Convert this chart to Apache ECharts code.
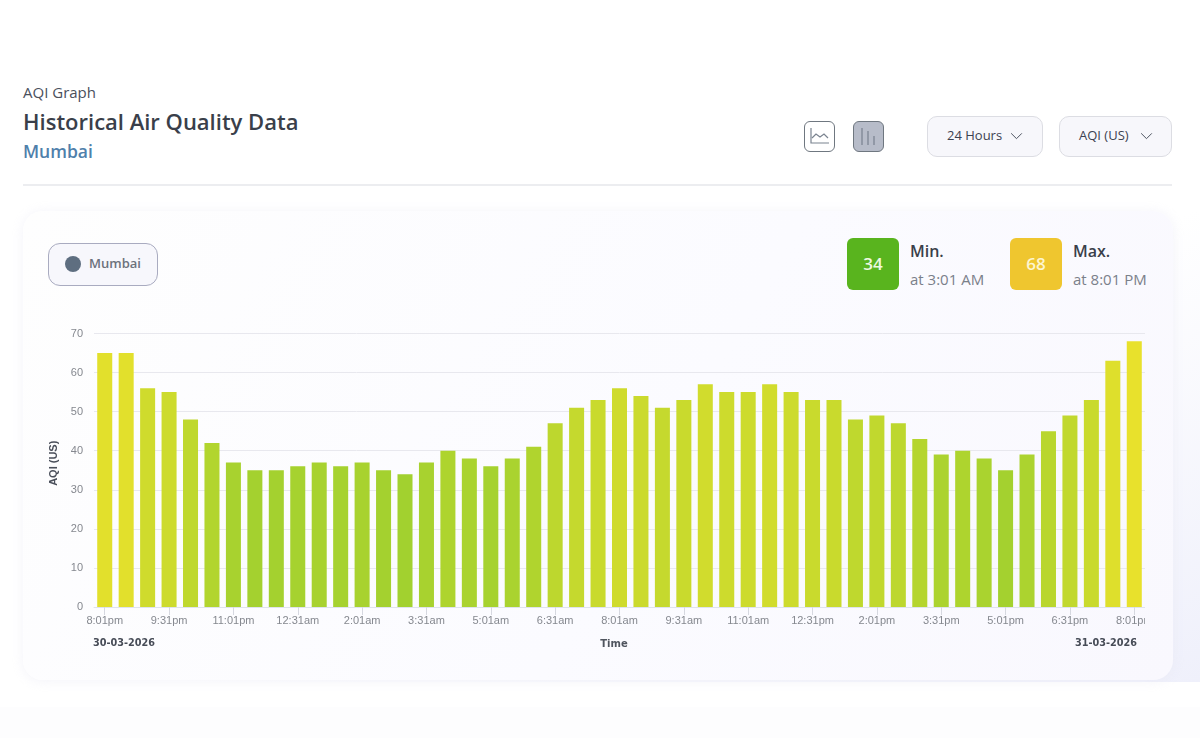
<!DOCTYPE html>
<html><head><meta charset="utf-8">
<script src="https://cdn.jsdelivr.net/npm/echarts@6/dist/echarts.min.js"></script>
<style>
html,body{margin:0;padding:0;width:1200px;height:738px;overflow:hidden;background:#fff;font-family:"Open Sans","Noto Sans",sans-serif;}
.t{position:absolute;white-space:nowrap;line-height:1;}
.box{position:absolute;box-sizing:border-box;}
.btn{background:#f7f7fb;border:1.5px solid #dcdde3;border-radius:10px;height:41px;top:116px;color:#3c4250;font-size:13px;}
#bg{position:absolute;left:0;top:186px;width:1200px;height:496px;background:linear-gradient(155deg,#ffffff 0%,#ffffff 55%,#eff0fb 100%);}
#card{position:absolute;left:23px;top:211px;width:1150px;height:469px;border-radius:20px;background:linear-gradient(120deg,#fefefe 0%,#fbfbff 55%,#f9f8fe 100%);box-shadow:0 1px 12px rgba(228,228,242,.45);}
#chart{position:absolute;left:0;top:320px;width:1145px;height:340px;}
</style></head><body>
<div id="bg"></div>
<div class="box" style="left:0;top:707px;width:1200px;height:31px;background:#fdfdfe"></div>
<div class="t" style="left:23px;top:85px;font-size:15px;color:#4a505c">AQI Graph</div>
<div class="t" style="left:23px;top:110px;font-size:22px;font-weight:600;color:#3a3f4a">Historical Air Quality Data</div>
<div class="t" style="left:23px;top:143px;font-size:17.5px;font-weight:600;color:#4f80ab">Mumbai</div>
<div class="box" style="left:23px;top:184px;width:1149px;height:2px;background:#ecedf0"></div>

<div class="box" style="left:804px;top:121px;width:31px;height:31px;border:1.5px solid #6f7780;border-radius:6px;background:#fff">
<svg width="28" height="28" viewBox="0 0 28 28" fill="none" stroke="#7b8490" stroke-width="1.2"><path d="M6 6V21H24"/><path d="M7 16L11 12L15 15L19 12L23 16"/></svg></div>
<div class="box" style="left:853px;top:121px;width:31px;height:31px;border:1.5px solid #6f7780;border-radius:6px;background:#b7bcc9">
<svg width="28" height="28" viewBox="0 0 28 28" fill="none" stroke="#858c9a" stroke-width="1.5"><path d="M8 6V23M14 9V23M20 14V23"/></svg></div>

<div class="box btn" style="left:927px;width:116px"><span class="t" style="left:19px;top:12px">24 Hours</span>
<svg class="t" style="left:82px;top:15px" width="13" height="8" viewBox="0 0 14 9" fill="none" stroke="#4b515e" stroke-width="1.1"><path d="M1 1.5L7 7.5L13 1.5"/></svg></div>
<div class="box btn" style="left:1059px;width:113px"><span class="t" style="left:19px;top:12px">AQI (US)</span>
<svg class="t" style="left:80px;top:15px" width="13" height="8" viewBox="0 0 14 9" fill="none" stroke="#4b515e" stroke-width="1.1"><path d="M1 1.5L7 7.5L13 1.5"/></svg></div>

<div id="card"></div>
<div class="box" style="left:48px;top:243px;width:110px;height:43px;border:1.5px solid #a9abc0;border-radius:12px;background:#f7f7fc"></div>
<div class="box" style="left:65px;top:256px;width:16px;height:16px;border-radius:50%;background:#5e6e80"></div>
<div class="t" style="left:89px;top:257px;font-size:13px;font-weight:600;color:#6d727c">Mumbai</div>

<div class="box" style="left:847px;top:238px;width:52px;height:52px;border-radius:6px;background:#59b41e"></div>
<div class="t" style="left:847px;top:255px;width:52px;text-align:center;font-size:17px;font-weight:600;color:#eef8e0">34</div>
<div class="t" style="left:910px;top:243px;font-size:16px;font-weight:600;color:#3a3f4a">Min.</div>
<div class="t" style="left:910px;top:272px;font-size:15px;color:#7a808a">at 3:01 AM</div>
<div class="box" style="left:1010px;top:238px;width:52px;height:52px;border-radius:6px;background:#efc62f"></div>
<div class="t" style="left:1010px;top:255px;width:52px;text-align:center;font-size:17px;font-weight:600;color:#fdf5d0">68</div>
<div class="t" style="left:1073px;top:243px;font-size:16px;font-weight:600;color:#3a3f4a">Max.</div>
<div class="t" style="left:1073px;top:272px;font-size:15px;color:#7a808a">at 8:01 PM</div>

<div id="chart"></div>
<script>
const categories=["8:01pm","8:31pm","9:01pm","9:31pm","10:01pm","10:31pm","11:01pm","11:31pm","12:01am","12:31am","1:01am","1:31am","2:01am","2:31am","3:01am","3:31am","4:01am","4:31am","5:01am","5:31am","6:01am","6:31am","7:01am","7:31am","8:01am","8:31am","9:01am","9:31am","10:01am","10:31am","11:01am","11:31am","12:01pm","12:31pm","1:01pm","1:31pm","2:01pm","2:31pm","3:01pm","3:31pm","4:01pm","4:31pm","5:01pm","5:31pm","6:01pm","6:31pm","7:01pm","7:31pm","8:01pm"];
const aqiValues=[65,65,56,55,48,42,37,35,35,36,37,36,37,35,34,37,40,38,36,38,41,47,51,53,56,54,51,53,57,55,55,57,55,53,53,48,49,47,43,39,40,38,35,39,45,49,53,63,68];
const yTicks={min:0,max:70,interval:10};
const dateStart="30-03-2026", dateEnd="31-03-2026";
const labelFont="'Liberation Sans',Arial,sans-serif";
const boldFont="'DejaVu Sans',Verdana,sans-serif";
const chart=echarts.init(document.getElementById('chart'),null,{renderer:'canvas'});
chart.setOption({
  animation:false,
  backgroundColor:'transparent',
  grid:{left:94,right:0,top:13.5,height:273.5,outerBoundsMode:'none'},
  visualMap:{show:false,type:'continuous',seriesIndex:0,min:34,max:68,inRange:{color:['#a2d12f','#e8e12c']}},
  xAxis:{type:'category',data:categories,
    axisLine:{lineStyle:{color:'#dfe3ec',width:1}},
    axisTick:{show:true,alignWithLabel:true,interval:2,length:8,lineStyle:{color:'#d6d8e0'}},
    axisLabel:{interval:2,margin:8,fontSize:11,color:'#85888f',fontFamily:labelFont,hideOverlap:false},
    name:'Time',nameLocation:'middle',nameGap:32,
    nameTextStyle:{fontSize:10,fontWeight:'bold',color:'#50555f',fontFamily:boldFont,padding:[0,11,0,0]}},
  yAxis:{type:'value',min:yTicks.min,max:yTicks.max,interval:yTicks.interval,
    axisLine:{show:false},axisTick:{show:false},
    splitLine:{lineStyle:{color:'#e8e8ee',width:1}},
    axisLabel:{margin:11,fontSize:11,color:'#85888f',fontFamily:labelFont},
    name:'AQI (US)',nameLocation:'middle',nameGap:33,nameRotate:90,
    nameTextStyle:{fontSize:11,fontWeight:'bold',color:'#4a4f5a',fontFamily:labelFont,padding:[0,0,0,14]}},
  graphic:[
    {type:'text',left:93,top:318,style:{text:dateStart,font:"bold 9.7px "+boldFont,fill:'#474c57'}},
    {type:'text',left:1075,top:318,style:{text:dateEnd,font:"bold 9.7px "+boldFont,fill:'#474c57'}}
  ],
  series:[{type:'bar',data:aqiValues,barWidth:'70%'}]
});
</script>
</body></html>
